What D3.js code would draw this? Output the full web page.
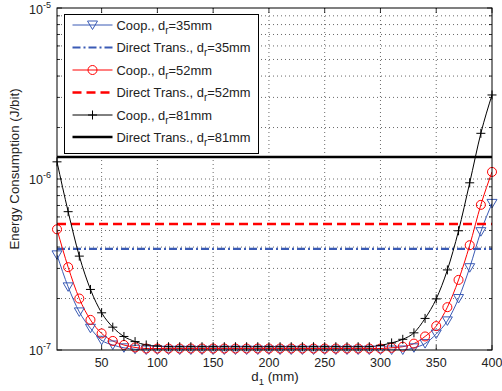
<!DOCTYPE html>
<html>
<head>
<meta charset="utf-8">
<script src="https://cdn.jsdelivr.net/npm/d3@7"></script>
<style>
  body { margin: 0; background: #fff; }
  text { font-family: "Liberation Sans", Arial, sans-serif; fill: #222; }
</style>
</head>
<body>
<svg width="502" height="391"></svg>
<script>
// d1 positions (mm)
const d1 = d3.range(10, 401, 10);

// Cooperative energy per bit
const coop35 = [3.6e-7, 2.34e-7, 1.67e-7, 1.34e-7, 1.14e-7, 1.07e-7, 1.03e-7, 1.01e-7, 1.0e-7, 1.0e-7,
  1.0e-7, 1.0e-7, 1.0e-7, 1.0e-7, 1.0e-7, 1.0e-7, 1.0e-7, 1.0e-7, 1.0e-7, 1.0e-7,
  1.0e-7, 1.0e-7, 1.0e-7, 1.0e-7, 1.0e-7, 1.0e-7, 1.0e-7, 1.0e-7, 1.0e-7, 1.0e-7,
  1.0e-7, 1.0e-7, 1.03e-7, 1.09e-7, 1.24e-7, 1.48e-7, 2.0e-7, 3.03e-7, 4.92e-7, 7.2e-7];
const coop52 = [5.08e-7, 3.05e-7, 2.0e-7, 1.5e-7, 1.25e-7, 1.13e-7, 1.07e-7, 1.035e-7, 1.02e-7, 1.02e-7,
  1.02e-7, 1.02e-7, 1.02e-7, 1.02e-7, 1.02e-7, 1.02e-7, 1.02e-7, 1.02e-7, 1.02e-7, 1.02e-7,
  1.02e-7, 1.02e-7, 1.02e-7, 1.02e-7, 1.02e-7, 1.02e-7, 1.02e-7, 1.02e-7, 1.02e-7, 1.02e-7,
  1.03e-7, 1.045e-7, 1.09e-7, 1.2e-7, 1.38e-7, 1.78e-7, 2.57e-7, 4.1e-7, 7.06e-7, 1.1e-6];
const coop81 = [1.26e-6, 6.44e-7, 3.54e-7, 2.26e-7, 1.65e-7, 1.36e-7, 1.2e-7, 1.12e-7, 1.07e-7, 1.055e-7,
  1.045e-7, 1.045e-7, 1.045e-7, 1.045e-7, 1.045e-7, 1.045e-7, 1.045e-7, 1.045e-7, 1.045e-7, 1.045e-7,
  1.045e-7, 1.045e-7, 1.045e-7, 1.045e-7, 1.045e-7, 1.045e-7, 1.045e-7, 1.045e-7, 1.045e-7, 1.065e-7,
  1.1e-7, 1.155e-7, 1.26e-7, 1.53e-7, 1.99e-7, 2.94e-7, 4.98e-7, 9.5e-7, 1.85e-6, 3.1e-6];

// Direct transmission levels
const direct35 = 3.9e-7;
const direct52 = 5.46e-7;
const direct81 = 1.345e-6;

const xTicks = [50, 100, 150, 200, 250, 300, 350, 400];
const yDecades = [1e-7, 1e-6, 1e-5];
const legendLabels = ["Coop., d", "Direct Trans., d", "Coop., d", "Direct Trans., d", "Coop., d", "Direct Trans., d"];
const legendSuffix = ["=35mm", "=35mm", "=52mm", "=52mm", "=81mm", "=81mm"];

let svg = d3.select("svg");
const L = 57, R = 492, T = 8, B = 350;
const blue = "#3b5bb5", red = "#ff0000", black = "#000";

let x = d3.scaleLinear().domain([10, 400]).range([L, R]);
let y = d3.scaleLog().domain([1e-7, 1e-5]).range([B, T]);

// minor log ticks
let minor = [];
[1e-7, 1e-6].forEach(dec => { for (let k = 2; k <= 9; k++) minor.push(k * dec); });

let grid = svg.append("g").style("stroke", "#444").style("stroke-width", 0.8).style("stroke-dasharray", "1,3");
xTicks.forEach(t => {
    if (t >= 400) return;
    grid.append("line").attr("x1", x(t)).attr("x2", x(t)).attr("y1", T).attr("y2", B);
});
minor.concat([1e-6]).forEach(v => {
    grid.append("line").attr("x1", L).attr("x2", R).attr("y1", y(v)).attr("y2", y(v));
});

// tick marks inside on all four sides
let ticks = svg.append("g").style("stroke", "#000").style("stroke-width", 0.8);
xTicks.forEach(t => {
    ticks.append("line").attr("x1", x(t)).attr("x2", x(t)).attr("y1", B).attr("y2", B - 5);
    ticks.append("line").attr("x1", x(t)).attr("x2", x(t)).attr("y1", T).attr("y2", T + 5);
});
minor.forEach(v => {
    ticks.append("line").attr("x1", L).attr("x2", L + 3).attr("y1", y(v)).attr("y2", y(v));
    ticks.append("line").attr("x1", R).attr("x2", R - 3).attr("y1", y(v)).attr("y2", y(v));
});
yDecades.forEach(v => {
    ticks.append("line").attr("x1", L).attr("x2", L + 5).attr("y1", y(v)).attr("y2", y(v));
    ticks.append("line").attr("x1", R).attr("x2", R - 5).attr("y1", y(v)).attr("y2", y(v));
});

// tick labels
xTicks.forEach(t => {
    svg.append("text").attr("x", x(t)).attr("y", B + 17).attr("text-anchor", "middle")
        .style("font-size", "12.5px").text(t);
});
yDecades.forEach(v => {
    let e = Math.round(Math.log10(v));
    let tx = svg.append("text").attr("x", 29).attr("y", Math.max(y(v) + 5, 14)).style("font-size", "12.5px");
    tx.append("tspan").text("10");
    tx.append("tspan").attr("dy", -6).style("font-size", "9px").text(e);
});

svg.append("text").attr("transform", `translate(19,169) rotate(-90)`)
    .attr("text-anchor", "middle").style("font-size", "13.3px").text("Energy Consumption (J/bit)");
let xl = svg.append("text").attr("x", 275).attr("y", 381).attr("text-anchor", "middle").style("font-size", "13.3px");
xl.append("tspan").text("d");
xl.append("tspan").attr("dy", 4).style("font-size", "9.5px").text("1");
xl.append("tspan").attr("dy", -4).text(" (mm)");

// clip
svg.append("clipPath").attr("id", "clip").append("rect").attr("x", L).attr("y", T).attr("width", R - L).attr("height", B - T);
let plot = svg.append("g").attr("clip-path", "url(#clip)");
let marks = svg.append("g");

let line = d3.line().x((d, i) => x(d1[i])).y(d => y(d)).curve(d3.curveMonotoneX);

function triangle(g, cx, cy) {
    g.append("path").attr("d", `M${cx - 5},${cy - 4}L${cx + 5},${cy - 4}L${cx},${cy + 4.5}Z`)
        .style("fill", "none").style("stroke", blue).style("stroke-width", 1);
}
function circ(g, cx, cy) {
    g.append("circle").attr("cx", cx).attr("cy", cy).attr("r", 4.5)
        .style("fill", "none").style("stroke", red).style("stroke-width", 1);
}
function plus(g, cx, cy) {
    g.append("path").attr("d", `M${cx - 4.5},${cy}H${cx + 4.5}M${cx},${cy - 4.5}V${cy + 4.5}`)
        .style("stroke", black).style("stroke-width", 1);
}

function drawCoop(data, color, marker) {
    plot.append("path").attr("d", line(data)).style("fill", "none").style("stroke", color).style("stroke-width", 1);
    data.forEach((v, i) => marker(marks, x(d1[i]), y(v)));
}
function drawDirect(v, color, dash, w) {
    plot.append("line").attr("x1", L).attr("x2", R).attr("y1", y(v)).attr("y2", y(v))
        .style("stroke", color).style("stroke-width", w).style("stroke-dasharray", dash);
}

drawCoop(coop35, blue, triangle);
drawDirect(direct35, blue, "8,3,2,3", 2.2);
drawCoop(coop52, red, circ);
drawDirect(direct52, red, "9,5", 2.5);
drawCoop(coop81, black, plus);
drawDirect(direct81, black, null, 2.5);

// axes box
svg.append("rect").attr("x", L).attr("y", T).attr("width", R - L).attr("height", B - T)
    .style("fill", "none").style("stroke", "#000").style("stroke-width", 1);

// legend
let lg = svg.append("g");
lg.append("rect").attr("x", 64.5).attr("y", 14.5).attr("width", 194).attr("height", 139)
    .style("fill", "#fff").style("stroke", "#000").style("stroke-width", 1);
const rowY = [25, 47.5, 70, 92.5, 115, 137];
const styles = [
    { c: blue, d: null, w: 1, m: triangle },
    { c: blue, d: "8,3,2,3", w: 2.2 },
    { c: red, d: null, w: 1, m: circ },
    { c: red, d: "9,5", w: 2.5 },
    { c: black, d: null, w: 1, m: plus },
    { c: black, d: null, w: 2.5 }
];
styles.forEach((s, i) => {
    let yy = rowY[i];
    lg.append("line").attr("x1", 72.5).attr("x2", 112.5).attr("y1", yy).attr("y2", yy)
        .style("stroke", s.c).style("stroke-width", s.w).style("stroke-dasharray", s.d);
    if (s.m) s.m(lg, 92.5, yy);
    let t = lg.append("text").attr("x", 116.5).attr("y", yy + 4.5).style("font-size", "12.9px");
    t.append("tspan").text(legendLabels[i]);
    t.append("tspan").attr("dy", 4).style("font-size", "10px").text("r");
    t.append("tspan").attr("dy", -4).text(legendSuffix[i]);
});
</script>
</body>
</html>
